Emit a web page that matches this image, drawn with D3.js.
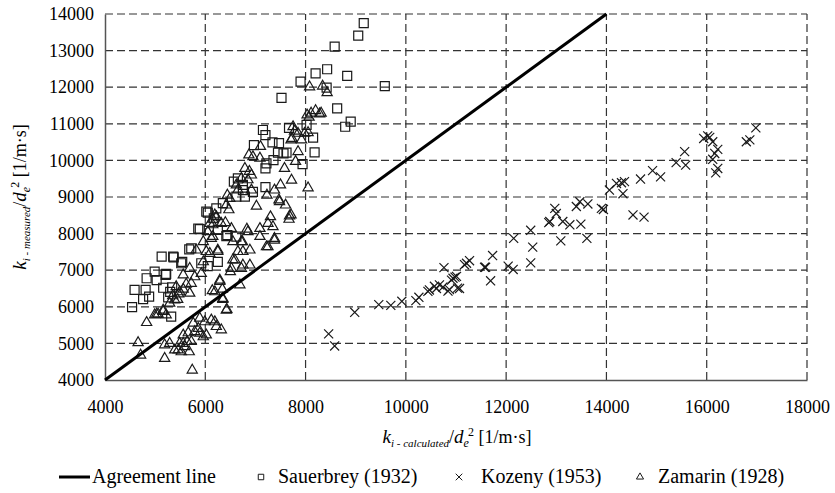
<!DOCTYPE html>
<html>
<head>
<meta charset="utf-8">
<script src="https://cdn.jsdelivr.net/npm/d3@7"></script>
<style>
  body { margin: 0; background: #fff; }
  svg text { font-family: "Liberation Serif", "DejaVu Serif", serif !important; fill: #000; }
</style>
</head>
<body>
<div id="chart"></div>
<script>
// axis ticks
const xTicks = [4000, 6000, 8000, 10000, 12000, 14000, 16000, 18000];
const yTicks = [4000, 5000, 6000, 7000, 8000, 9000, 10000, 11000, 12000, 13000, 14000];

// agreement line end points (calculated = measured)
const agreementLine = [[4000, 4000], [14000, 14000]];

// Sauerbrey (1932): [calculated, measured]
const sauerbrey = [
  [9160,13750],[9050,13410],[8580,13110],[8430,12490],[8200,12380],[8830,12310],[7900,12150],[8420,11990],
  [9580,12030],[7520,11710],[8630,11420],[8900,11060],[8790,10920],[8020,10970],[7670,10890],[7150,10830],
  [7200,10690],[8150,10620],[6970,10420],[7340,10490],[7470,10470],[7560,10190],[7450,10210],[7620,10210],
  [8180,10220],[7360,10010],[7220,9920],[7200,9780],[7940,9900],[6570,9420],[6650,9510],[6950,9140],
  [7200,9270],[6750,9190],[6750,9330],[6790,9010],[6620,9010],[6350,8830],[6220,8690],[6020,8600],
  [6170,8420],[5860,8140],[6050,8570],[5890,8120],[6250,8100],[6440,7960],[5720,7600],[6250,7230],
  [6050,7110],[5130,7370],[5360,7370],[5540,7230],[4990,6960],[5210,6870],[4830,6780],[4590,6460],
  [4810,6460],[5160,6520],[5340,6530],[4880,6280],[4760,6210],[5260,6260],[4540,5990],[5320,5730],
  [6620,7920],[6420,7930],[5370,7350],[5680,7570],[5520,7190],[5920,7190],[5220,6900],[5030,6730],[5300,6410]
];

// Kozeny (1953)
const kozeny = [
  [8460,5260],[8580,4930],[8980,5850],[9460,6060],[9700,6040],[9920,6150],[10200,6170],[10260,6260],
  [10440,6420],[10470,6460],[10570,6560],[10610,6500],[10670,6600],[10740,6540],[10840,6430],[10870,6470],
  [10910,6730],[10940,6780],[10980,6810],[11010,6830],[11030,6510],[11070,6500],[10760,7070],[11170,7150],
  [11210,7190],[11270,7260],[11570,7080],[11590,7080],[11690,6710],[11730,7400],[12040,7110],[12140,7020],
  [12150,7870],[12490,8090],[12530,7630],[12490,7200],[12850,8300],[12870,8330],[12970,8690],[13000,8550],
  [13130,8330],[13090,7800],[13270,8240],[13490,8260],[13610,7870],[13400,8740],[13470,8870],[13630,8810],
  [13900,8690],[13940,8660],[14060,9190],[14200,9370],[14300,9390],[14360,9420],[14330,9090],[14680,9490],
  [14530,8510],[14750,8450],[14920,9720],[15080,9550],[15390,9940],[15560,10240],[15580,9870],[15940,10600],
  [16020,10670],[16060,10630],[16120,10510],[16220,10300],[16160,10190],[16120,10030],[16220,9780],[16180,9660],
  [16790,10510],[16860,10560],[16980,10890]
];

// Zamarin (1928)
const zamarin = [
  [8080,12010],[8340,12030],[8430,11850],[8030,11240],[8110,11290],[8200,11360],[8310,11290],[8070,11180],[8280,11270],
  [7750,10920],[7780,10800],[7850,10740],[7980,10740],[8050,10760],[7730,10600],[7920,10560],[7710,10560],
  [7100,10380],[6870,10150],[6950,10100],[7090,10060],[7850,10240],[7800,9970],[7580,9780],[6790,9780],
  [6880,9700],[6920,9600],[6720,9510],[6850,9470],[7720,9460],[7500,9330],[7380,9190],[8050,9250],
  [6620,9330],[6650,9190],[7230,9050],[6920,9190],[6490,8960],[6440,9050],[6420,8780],[7470,8920],
  [7480,8870],[7600,8780],[6470,8650],[6220,8460],[6190,8510],[6150,8240],[6150,8390],[6090,8280],
  [6050,8050],[6150,7920],[7020,8750],[7680,8480],[7300,8460],[7250,8280],[6830,8120],[7090,8140],
  [7350,8190],[7710,8510],[7670,8390],[7380,7870],[7380,7820],[7250,7640],[7220,7640],[6850,8050],
  [7090,7920],[6890,7550],[6740,7780],[6650,7510],[6550,7280],[6890,7140],[6720,7050],[6500,6960],
  [6690,6600],[6290,6730],[6340,6480],[6140,6440],[6350,6200],[6550,7780],[6250,7550],[6090,7460],
  [5960,7230],[5920,6910],[6320,8280],[6400,8300],[6520,8140],[6120,7870],[5960,7780],[5820,7550],
  [6020,7510],[6250,7510],[6720,7780],[6750,7510],[6590,7280],[6520,7050],[6750,7140],[5690,7050],
  [5560,6870],[5790,6820],[5720,6640],[5420,6550],[5690,6370],[5490,6410],[5390,6190],[5450,6200],
  [5290,6100],[6290,6690],[6190,6410],[6350,6230],[6420,5910],[5160,5910],[4990,5780],[5060,5800],
  [5350,6300],[5470,6350],[5560,6480],[5620,6620],
  [4830,5570],[5030,5800],[5160,5870],[5220,5780],[4660,5020],[4710,4680],[5190,4590],[5190,4960],
  [5290,5000],[5390,4820],[5460,4820],[5490,5000],[5520,4770],[5560,5000],[5590,4910],[5640,5050],
  [5680,4770],[5720,5050],[5560,5230],[5660,5290],[5760,5550],[5740,4270],[5790,5320],[5860,5410],
  [5890,5280],[5960,5180],[6020,5230],[5990,5590],[6120,5640],[6190,5590],[6220,5460],[6320,5370],
  [5890,5690],[6430,5930]
];

const width = 835;
const height = 493;
const margin = { top: 14, right: 28, bottom: 113, left: 105 };
const ink = '#1a1a1a';
const serif = '"Liberation Serif", "DejaVu Serif", serif';

const svg = d3.select('#chart')
  .append('svg')
    .attr('width', width)
    .attr('height', height)
    .attr('font-family', serif);

const xScale = d3.scaleLinear()
  .domain([4000, 18000])
  .range([margin.left, width - margin.right]);

const yScale = d3.scaleLinear()
  .domain([4000, 14000])
  .range([height - margin.bottom, margin.top]);

// dashed grid
const grid = svg.append('g').attr('class', 'grid')
  .attr('stroke', '#333')
  .attr('stroke-width', 1.2)
  .attr('stroke-dasharray', '8,4');

grid.selectAll('line.v')
  .data(xTicks.slice(1))
  .enter().append('line')
    .attr('class', 'v')
    .attr('x1', d => xScale(d)).attr('x2', d => xScale(d))
    .attr('y1', yScale(4000)).attr('y2', yScale(14000));

grid.selectAll('line.h')
  .data(yTicks.slice(1))
  .enter().append('line')
    .attr('class', 'h')
    .attr('x1', xScale(4000)).attr('x2', xScale(18000))
    .attr('y1', d => yScale(d)).attr('y2', d => yScale(d));

// axes
const xAxis = svg.append('g')
  .attr('transform', `translate(0, ${yScale(4000)})`)
  .call(d3.axisBottom(xScale).tickValues(xTicks).tickFormat(d3.format('d')).tickSize(0).tickPadding(20));

const yAxis = svg.append('g')
  .attr('transform', `translate(${xScale(4000)}, 0)`)
  .call(d3.axisLeft(yScale).tickValues(yTicks).tickFormat(d3.format('d')).tickSize(0).tickPadding(11));

[xAxis, yAxis].forEach(a => {
  a.attr('font-family', serif).attr('font-size', 18);
  a.select('.domain').attr('stroke', '#555').attr('stroke-width', 1.5);
  a.selectAll('text').attr('fill', '#000');
});

// markers
const sym = {
  square: d3.symbol().type(d3.symbolSquare),
  times: d3.symbol().type(d3.symbolTimes),
  triangle: d3.symbol().type(d3.symbolTriangle)
};

function drawSeries(data, gen, size) {
  svg.append('g')
    .selectAll('path')
    .data(data)
    .enter().append('path')
      .attr('transform', d => `translate(${xScale(d[0])}, ${yScale(d[1])})`)
      .attr('d', gen.size(size)())
      .attr('fill', 'none')
      .attr('stroke', ink)
      .attr('stroke-width', 1.2);
}

drawSeries(sauerbrey, sym.square, 81);
drawSeries(kozeny, sym.times, 55);
drawSeries(zamarin, sym.triangle, 45);

// agreement line
svg.append('path')
  .datum(agreementLine)
  .attr('d', d3.line().x(d => xScale(d[0])).y(d => yScale(d[1])))
  .attr('fill', 'none')
  .attr('stroke', '#000')
  .attr('stroke-width', 3);

// axis titles with sub/superscripts
function richText(sel, parts) {
  parts.forEach(p => {
    sel.append('tspan')
      .text(p.t)
      .attr('dy', p.dy || 0)
      .attr('dx', p.dx || 0)
      .attr('font-style', p.it ? 'italic' : 'normal')
      .attr('font-size', p.s || 18);
  });
}

function titleParts(sub) {
  return [
    { t: 'k', it: true, s: 19 },
    { t: sub, it: true, s: 11, dy: 4 },
    { t: '/', s: 18, dy: -4 },
    { t: 'd', it: true, s: 19 },
    { t: 'e', it: true, s: 12, dy: 4 },
    { t: '2', s: 12, dy: -11, dx: -1 },
    { t: ' [1/m·s]', s: 18, dy: 7 }
  ];
}

const xTitle = svg.append('text')
  .attr('x', 457).attr('y', 443)
  .attr('text-anchor', 'middle');
richText(xTitle, titleParts('i - calculated'));

const yTitle = svg.append('text')
  .attr('transform', 'translate(26, 197) rotate(-90)')
  .attr('text-anchor', 'middle');
richText(yTitle, titleParts('i - measured'));

// legend
const legendY = 477;
const legend = svg.append('g').attr('class', 'legend');

legend.append('line')
  .attr('x1', 59).attr('x2', 90)
  .attr('y1', legendY).attr('y2', legendY)
  .attr('stroke', '#000').attr('stroke-width', 3);

const legendItems = [
  { label: 'Agreement line', x: 92, marker: null },
  { label: 'Sauerbrey (1932)', x: 278, marker: sym.square, mx: 261, size: 30 },
  { label: 'Kozeny (1953)', x: 481, marker: sym.times, mx: 459, size: 30 },
  { label: 'Zamarin (1928)', x: 658, marker: sym.triangle, mx: 640, size: 22 }
];

legendItems.forEach(it => {
  if (it.marker) {
    legend.append('path')
      .attr('transform', `translate(${it.mx}, ${legendY})`)
      .attr('d', it.marker.size(it.size)())
      .attr('fill', 'none')
      .attr('stroke', ink)
      .attr('stroke-width', 1);
  }
  legend.append('text')
    .attr('x', it.x).attr('y', legendY + 6)
    .attr('font-size', 20)
    .text(it.label);
});
</script>
</body>
</html>
